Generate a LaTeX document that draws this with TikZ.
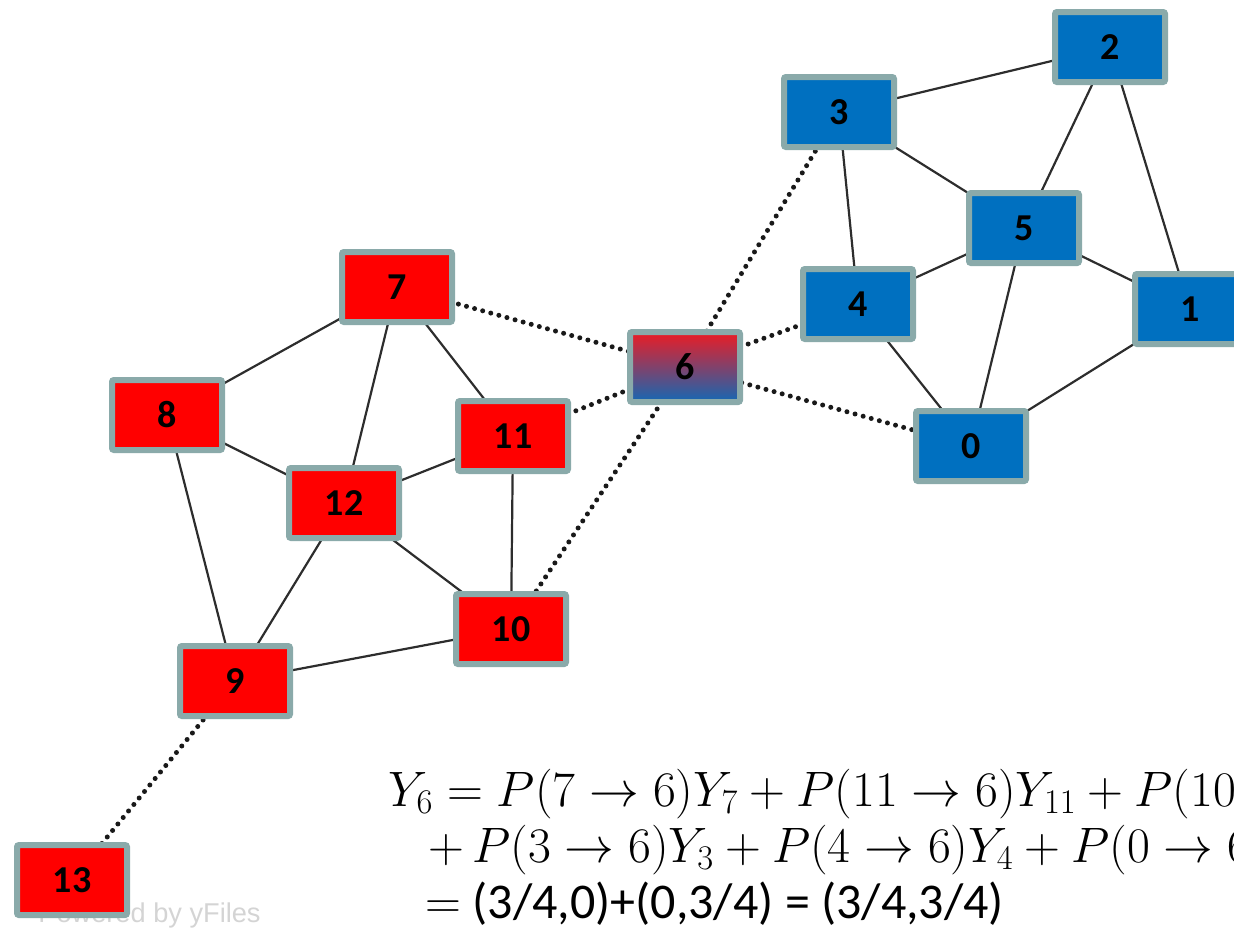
\documentclass[tikz,border=0pt]{standalone}
\usepackage[no-math]{fontspec}
\setmainfont{Carlito}
\newfontfamily\wmfont{Liberation Sans}
\usepackage{amsmath}
\usepackage{tikz}
\usetikzlibrary{shapes,arrows.meta,positioning}

\definecolor{nodered}{RGB}{255,0,0}
\definecolor{nodeblue}{RGB}{0,112,192}
\definecolor{nodeframe}{RGB}{138,170,170}
\definecolor{edgegrey}{RGB}{45,45,45}

\begin{document}
\begin{tikzpicture}[x=0.5pt,y=-0.5pt,
    box/.style={draw=nodeframe, line width=3pt, rounded corners=1pt,
        minimum width=55pt, minimum height=35pt, inner sep=0pt,
        font=\fontsize{19}{21}\selectfont\bfseries},
    redbox/.style={box, fill=nodered},
    bluebox/.style={box, fill=nodeblue},
    link/.style={edgegrey, line width=1.1pt},
    cross/.style={black!90, line width=2.5pt, line cap=round, dash pattern=on 0pt off 4.2pt}]
            \clip (0,0) rectangle (1234,933);
            % watermark
            \node[anchor=base west, inner sep=0pt, text=black!17, font=\wmfont\fontsize{13.6}{14}\selectfont] (wm) at (38,922) {Powered by yFiles};
            % coordinates of the nodes
            \coordinate (p0) at (971,446);
            \coordinate (p1) at (1190,309);
            \coordinate (p2) at (1110,47);
            \coordinate (p3) at (839,112);
            \coordinate (p4) at (858,304);
            \coordinate (p5) at (1024,228);
            \coordinate (p6) at (685,367);
            \coordinate (p7) at (397,287);
            \coordinate (p8) at (167,415);
            \coordinate (p9) at (235,681);
            \coordinate (p10) at (511,629);
            \coordinate (p11) at (513,436);
            \coordinate (p12) at (344,503);
            \coordinate (p13) at (72,880);
            % edges inside the two groups
            \foreach \a/\b in {2/3,2/5,2/1,3/5,3/4,5/4,5/1,5/0,4/0,1/0,
                7/8,7/12,7/11,8/12,8/9,12/11,12/9,12/10,11/10,10/9}
                \draw[link] (p\a) -- (p\b);
            % edges between the groups
            \foreach \a/\b in {6/7,6/11,6/10,6/3,6/4,6/0,9/13}
                \draw[cross] (p\a) -- (p\b);
            % nodes
            \foreach \i in {0,...,5}
                \node[bluebox] (v\i) at (p\i) {\i};
            \foreach \i in {7,...,13}
                \node[redbox] (v\i) at (p\i) {\i};
            \node[box, top color={rgb,255:red,236;green,28;blue,36}, bottom color={rgb,255:red,20;green,104;blue,180}] (v6) at (p6) {6};
            % equation
            \node[anchor=base west, inner sep=0pt, font=\fontsize{24}{28}\selectfont] (eq1) at (388,806)
                {$Y_6 = P(7 \rightarrow 6)Y_7 + P(11 \rightarrow 6)Y_{11} + P(10 \rightarrow 6)Y_{10}$};
            \node[anchor=base west, inner sep=0pt, font=\fontsize{24}{28}\selectfont] (eq2) at (428,862)
                {$+\,P(3 \rightarrow 6)Y_3 + P(4 \rightarrow 6)Y_4 + P(0 \rightarrow 6)Y_0$};
            \node[anchor=base west, inner sep=0pt, font=\fontsize{25}{28}\selectfont] (eq3) at (425,918)
                {$=$ (3/4,0)+(0,3/4) = (3/4,3/4)};
        \end{tikzpicture}
\end{document}
